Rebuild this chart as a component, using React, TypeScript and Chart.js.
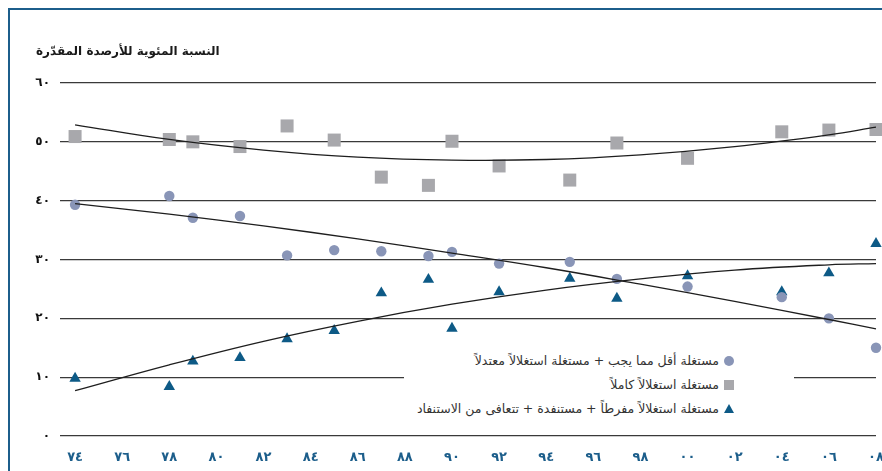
import { useEffect, useRef } from "react";
import { Chart, registerables } from "chart.js";

Chart.register(...registerables);

// ---- data ----
const years = [1974, 1978, 1979, 1981, 1983, 1985, 1987, 1989, 1990, 1992, 1995, 1997, 2000, 2004, 2006, 2008];
const underModerate = [39.3, 40.8, 37.1, 37.4, 30.7, 31.6, 31.4, 30.6, 31.3, 29.3, 29.6, 26.7, 25.4, 23.6, 20.0, 15.0];
const fullyExploited = [50.9, 50.4, 50.0, 49.2, 52.7, 50.3, 44.0, 42.6, 50.1, 45.9, 43.5, 49.8, 47.2, 51.7, 52.0, 52.1];
const overDepleted = [9.8, 8.4, 12.7, 13.3, 16.5, 17.9, 24.3, 26.6, 18.3, 24.5, 26.8, 23.4, 27.2, 24.5, 27.7, 32.7];

const trendYears = [1974, 1978, 1982, 1986, 1990, 1994, 1998, 2002, 2006, 2008];
const trendUnder = [39.5, 37.7, 35.7, 33.5, 31.1, 28.6, 25.8, 22.9, 19.8, 18.2];
const trendFully = [52.9, 50.4, 48.6, 47.4, 46.9, 47.0, 47.8, 49.2, 51.2, 52.5];
const trendOver = [7.7, 12.1, 16.1, 19.5, 22.4, 24.8, 26.7, 28.2, 29.1, 29.3];

const xTickYears = [1974, 1976, 1978, 1980, 1982, 1984, 1986, 1988, 1990, 1992, 1994, 1996, 1998, 2000, 2002, 2004, 2006, 2008];
const xTickLabels = ["٧٤", "٧٦", "٧٨", "٨٠", "٨٢", "٨٤", "٨٦", "٨٨", "٩٠", "٩٢", "٩٤", "٩٦", "٩٨", "٠٠", "٠٢", "٠٤", "٠٦", "٠٨"];
const yTickLabels = ["٠", "١٠", "٢٠", "٣٠", "٤٠", "٥٠", "٦٠"];

const titleText = "النسبة المئوية للأرصدة المقدّرة";
const legendLabels = [
  "مستغلة أقل مما يجب + مستغلة استغلالاً معتدلاً",
  "مستغلة استغلالاً كاملاً",
  "مستغلة استغلالاً مفرطاً + مستنفدة + تتعافى من الاستنفاد",
];

// ---- styles ----
const FRAME = "#1c5e8b";
const CIRCLE = "#8995b7";
const SQUARE = "#a8a8ac";
const TRI = "#0d5a86";
const LINE = "#1e1e1e";
const FONT = '"DejaVu Sans", sans-serif';

export default function App() {
  const ref = useRef<HTMLCanvasElement>(null);

  useEffect(() => {
    document.body.style.overflow = "hidden";
    const canvas = ref.current;
    if (!canvas) return;
    const pts = (ys: number[]) => years.map((x, i) => ({ x, y: ys[i] }));
    const tpts = (ys: number[]) => trendYears.map((x, i) => ({ x, y: ys[i] }));
    const trend = (ys: number[]) => ({
      type: "line" as const,
      data: tpts(ys),
      borderColor: LINE,
      borderWidth: 1.3,
      pointRadius: 0,
      tension: 0.4,
      fill: false,
      showLine: true,
      clip: false as any,
    });
    const chart = new Chart(canvas, {
      type: "scatter",
      data: {
        datasets: [
          trend(trendFully),
          trend(trendUnder),
          trend(trendOver),
          {
            data: pts(fullyExploited),
            pointStyle: "rect",
            pointRadius: 9.2,
            backgroundColor: SQUARE,
            borderWidth: 0,
            clip: false as any,
          },
          {
            data: pts(underModerate),
            pointStyle: "circle",
            pointRadius: 5.2,
            backgroundColor: CIRCLE,
            borderWidth: 0,
            clip: false as any,
          },
          {
            data: pts(overDepleted),
            pointStyle: "triangle",
            pointRadius: 6.6,
            backgroundColor: TRI,
            borderWidth: 0,
            clip: false as any,
          },
        ] as any,
      },
      options: {
        animation: false,
        responsive: false,
        maintainAspectRatio: false,
        layout: { padding: { left: 0, right: 24, top: 83, bottom: 0 } },
        plugins: { legend: { display: false }, tooltip: { enabled: false }, title: { display: false } },
        scales: {
          x: {
            type: "linear",
            min: 1973.36,
            max: 2008,
            afterBuildTicks: (s: any) => {
              s.ticks = xTickYears.map((v) => ({ value: v }));
            },
            afterFit: (s: any) => {
              s.height = 35;
            },
            grid: { display: false, drawTicks: false },
            border: { display: false },
            ticks: {
              autoSkip: false,
              maxRotation: 0,
              minRotation: 0,
              padding: 14,
              color: FRAME,
              font: { family: FONT, size: 13, weight: "bold" },
              callback: (v: any) => {
                const i = xTickYears.indexOf(Number(v));
                return i >= 0 ? xTickLabels[i] : "";
              },
            },
          },
          y: {
            min: 0,
            max: 60,
            afterFit: (s: any) => {
              s.width = 60;
            },
            grid: { color: "#3a3a3a", lineWidth: 1.2, drawTicks: false },
            border: { display: false },
            ticks: {
              stepSize: 10,
              padding: 10,
              color: "#111",
              font: { family: FONT, size: 12, weight: "bold" },
              callback: (v: any) => yTickLabels[Math.round(Number(v) / 10)] ?? "",
            },
          },
        },
      },
    });
    return () => chart.destroy();
  }, []);

  const rowY = [361, 385, 409];

  return (
    <div>
      <div
        style={{
          position: "fixed",
          left: 8,
          top: 8,
          width: 900,
          height: 500,
          borderTop: `2px solid ${FRAME}`,
          borderLeft: `2px solid ${FRAME}`,
          boxSizing: "border-box",
        }}
      />
      <canvas
        ref={ref}
        width={900}
        height={471}
        style={{ position: "fixed", left: 0, top: 0, width: 900, height: 471 }}
      />
      <div
        style={{
          position: "fixed",
          left: 36,
          top: 42,
          height: 18,
          lineHeight: "18px",
          fontFamily: FONT,
          fontSize: 12,
          fontWeight: "bold",
          color: "#1a1a1a",
          direction: "rtl",
          whiteSpace: "nowrap",
        }}
      >
        {titleText}
      </div>
      <div
        style={{ position: "fixed", left: 404, top: 342, width: 390, height: 86, background: "#fff" }}
      />
      {legendLabels.map((t, i) => (
        <div
          key={i}
          style={{
            position: "fixed",
            right: 882 - 719,
            top: rowY[i] - 9,
            height: 18,
            lineHeight: "18px",
            fontFamily: FONT,
            fontSize: 12.5,
            color: "#333",
            direction: "rtl",
            whiteSpace: "nowrap",
          }}
        >
          {t}
        </div>
      ))}
      <div
        style={{
          position: "fixed",
          left: 724,
          top: rowY[0] - 5,
          width: 10,
          height: 10,
          borderRadius: "50%",
          background: CIRCLE,
        }}
      />
      <div
        style={{ position: "fixed", left: 724, top: rowY[1] - 5, width: 10, height: 10, background: SQUARE }}
      />
      <div
        style={{
          position: "fixed",
          left: 724,
          top: rowY[2] - 5,
          width: 0,
          height: 0,
          borderLeft: "5px solid transparent",
          borderRight: "5px solid transparent",
          borderBottom: `9px solid ${TRI}`,
        }}
      />
    </div>
  );
}
